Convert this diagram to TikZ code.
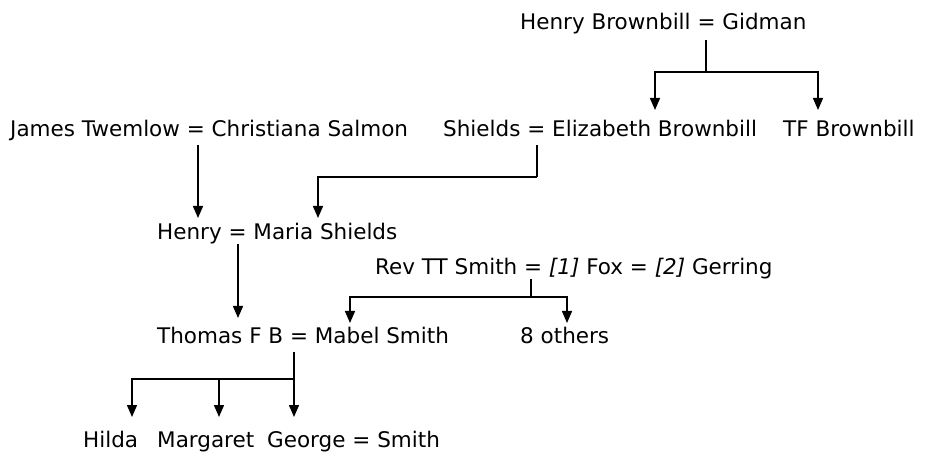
\documentclass[tikz,border=0pt]{standalone}
\usepackage{fontspec}
\setmainfont{DejaVu Sans}
\usetikzlibrary{arrows.meta, positioning}

\begin{document}
\begin{tikzpicture}[
      x=1pt, y=-1pt,
      font=\fontsize{21.5}{26}\selectfont,
      who/.style={inner sep=0pt, anchor=base west},
      link/.style={line width=1.5pt},
      arr/.style={link, -{Triangle[width=10pt, length=12pt]}}
    ]
    \useasboundingbox (0,0) rectangle (932,454);

    % Row 1: Brownbill parents
    \node[who] (hb) at (520,30) {Henry Brownbill = Gidman};

    % Row 2: couples and TF
    \node[who] (jt) at (10,137) {James Twemlow = Christiana Salmon};
    \node[who] (eb) at (443,137) {Shields = Elizabeth Brownbill};
    \node[who] (tf) at (783,137) {TF Brownbill};

    % Row 3: Henry and Rev Smith
    \node[who] (hm) at (157,240) {Henry = Maria Shields};
    \node[who] (rev) at (375,275) {Rev TT Smith = \textit{[1]} Fox = \textit{[2]} Gerring};

    % Row 4: Thomas and siblings of Mabel
    \node[who] (tm) at (157,344) {Thomas F B = Mabel Smith};
    \node[who] (oth) at (520,344) {8 others};

    % Row 5: children
    \node[who] (hil) at (83,447) {Hilda};
    \node[who] (mar) at (157,447) {Margaret};
    \node[who] (geo) at (267,447) {George = Smith};

    % Junctions and arrow ends
    \coordinate (bbtop) at (706,40);
    \coordinate (bbj) at (706,72);
    \coordinate (to-eb) at (655,110);
    \coordinate (to-tf) at (818,110);
    \coordinate (jttop) at (198,145);
    \coordinate (to-hen) at (198,218);
    \coordinate (ebtop) at (537,145);
    \coordinate (ebj) at (537,177);
    \coordinate (to-mar) at (318,218);
    \coordinate (hmtop) at (238,244);
    \coordinate (to-tho) at (238,318);
    \coordinate (revtop) at (531,279);
    \coordinate (revj) at (531,297);
    \coordinate (to-mab) at (350,323);
    \coordinate (to-oth) at (567,323);
    \coordinate (tmtop) at (294,352);
    \coordinate (tmj) at (294,379);
    \coordinate (to-hil) at (132,417);
    \coordinate (to-mgt) at (219,417);
    \coordinate (to-geo) at (294,417);

    % Arrows
    \draw[link] (bbtop) -- (bbj);
    \draw[arr] (bbj) -| (to-eb);
    \draw[arr] (bbj) -| (to-tf);
    \draw[arr] (jttop) -- (to-hen);
    \draw[link] (ebtop) -- (ebj);
    \draw[arr] (ebj) -| (to-mar);
    \draw[arr] (hmtop) -- (to-tho);
    \draw[link] (revtop) -- (revj);
    \draw[arr] (revj) -| (to-mab);
    \draw[arr] (revj) -| (to-oth);
    \draw[arr] (tmtop) -- (to-geo);
    \draw[arr] (tmj) -| (to-hil);
    \draw[arr] (tmj -| to-mgt) -- (to-mgt);
  \end{tikzpicture}
\end{document}
